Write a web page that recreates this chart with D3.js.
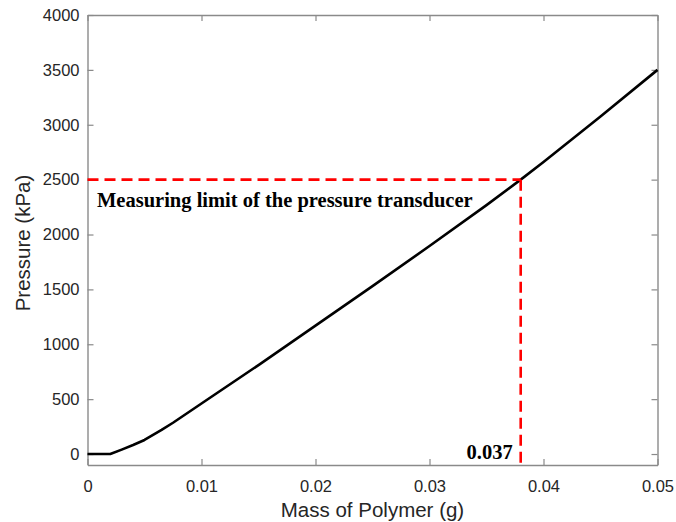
<!DOCTYPE html>
<html>
<head>
<meta charset="utf-8">
<script src="https://cdn.jsdelivr.net/npm/d3@7"></script>
<style>
  body { margin: 0; background: #fff; }
  .tick text { font-family: Arial, "Liberation Sans", sans-serif; font-size: 16.5px; fill: #262626; }
  .axis-label { font-family: Arial, "Liberation Sans", sans-serif; font-size: 20.5px; fill: #262626; }
  .note { font-family: "Times New Roman", "Liberation Serif", serif; font-size: 20.5px; font-weight: bold; fill: #000; }
</style>
</head>
<body>
<div id="chart"></div>
<script>
/* DATA */
const mass = [0, 0.002, 0.003, 0.004, 0.005, 0.0065, 0.0075, 0.01, 0.015, 0.02, 0.025, 0.03, 0.035, 0.038, 0.04, 0.045, 0.05];
const pressure = [0, 0, 40, 82, 128, 220, 285, 460, 810, 1170, 1530, 1895, 2268, 2500, 2660, 3075, 3500];
const xTicks = [0, 0.01, 0.02, 0.03, 0.04, 0.05];
const yTicks = [0, 500, 1000, 1500, 2000, 2500, 3000, 3500, 4000];
const limitPressure = 2500;
const limitMass = 0.038;
const limitLabel = "0.037";
const noteText = "Measuring limit of the pressure transducer";

/* LAYOUT */
const width = 676, height = 522,
  margin = { top: 15, bottom: 57, left: 87.5, right: 18.5 };

const svg = d3.select("#chart")
  .append("svg")
    .attr("width", width)
    .attr("height", height);

const xScale = d3.scaleLinear()
  .domain([0, 0.05])
  .range([margin.left, width - margin.right]);

const yScale = d3.scaleLinear()
  .domain([-100, 4000])
  .range([height - margin.bottom, margin.top]);

const axisColor = "#8a8a8a";

// bottom + left axes with labels, inward ticks
const xAxis = d3.axisBottom(xScale).tickValues(xTicks).tickFormat(d3.format("")).tickSizeInner(-6).tickSizeOuter(0).tickPadding(15);
const yAxis = d3.axisLeft(yScale).tickValues(yTicks).tickFormat(d3.format("d")).tickSizeInner(-6).tickSizeOuter(0).tickPadding(8);

const gx = svg.append("g")
  .attr("transform", `translate(0,${height - margin.bottom})`)
  .call(xAxis);
const gy = svg.append("g")
  .attr("transform", `translate(${margin.left},0)`)
  .call(yAxis);

// mirrored ticks on top + right
const gxTop = svg.append("g")
  .attr("transform", `translate(0,${margin.top})`)
  .call(d3.axisTop(xScale).tickValues(xTicks).tickSizeInner(-6).tickSizeOuter(0).tickFormat(""));
const gyRight = svg.append("g")
  .attr("transform", `translate(${width - margin.right},0)`)
  .call(d3.axisRight(yScale).tickValues(yTicks).tickSizeInner(-6).tickSizeOuter(0).tickFormat(""));

[gx, gy, gxTop, gyRight].forEach(g => {
  g.select(".domain").attr("stroke", axisColor).attr("stroke-width", 1.4);
  g.selectAll(".tick line").attr("stroke", axisColor).attr("stroke-width", 1.2);
});

svg.append("text")
  .attr("class", "axis-label")
  .attr("x", (margin.left + width - margin.right) / 2)
  .attr("y", 517)
  .attr("text-anchor", "middle")
  .text("Mass of Polymer (g)");

svg.append("text")
  .attr("class", "axis-label")
  .attr("transform", `translate(30,243) rotate(-90)`)
  .attr("text-anchor", "middle")
  .text("Pressure (kPa)");

// curve
const line = d3.line()
  .x((d, i) => xScale(mass[i]))
  .y(d => yScale(d));

svg.append("path")
  .datum(pressure)
  .attr("fill", "none")
  .attr("stroke", "#000")
  .attr("stroke-width", 2.6)
  .attr("stroke-linejoin", "round")
  .attr("d", line);

// measuring limit dashed lines
const dashed = svg.append("g")
  .attr("stroke", "#ff0000")
  .attr("stroke-width", 2.6)
  .attr("stroke-dasharray", "11,6")
  .attr("fill", "none");

dashed.append("line")
  .attr("x1", xScale(0))
  .attr("x2", xScale(limitMass))
  .attr("y1", yScale(limitPressure))
  .attr("y2", yScale(limitPressure));

dashed.append("line")
  .attr("x1", xScale(limitMass))
  .attr("x2", xScale(limitMass))
  .attr("y1", yScale(limitPressure))
  .attr("y2", yScale(-100));

svg.append("text")
  .attr("class", "note")
  .attr("x", 97)
  .attr("y", yScale(limitPressure) + 27)
  .text(noteText);

svg.append("text")
  .attr("class", "note")
  .attr("x", xScale(limitMass) - 8)
  .attr("y", yScale(-100) - 6.5)
  .attr("text-anchor", "end")
  .text(limitLabel);
</script>
</body>
</html>
